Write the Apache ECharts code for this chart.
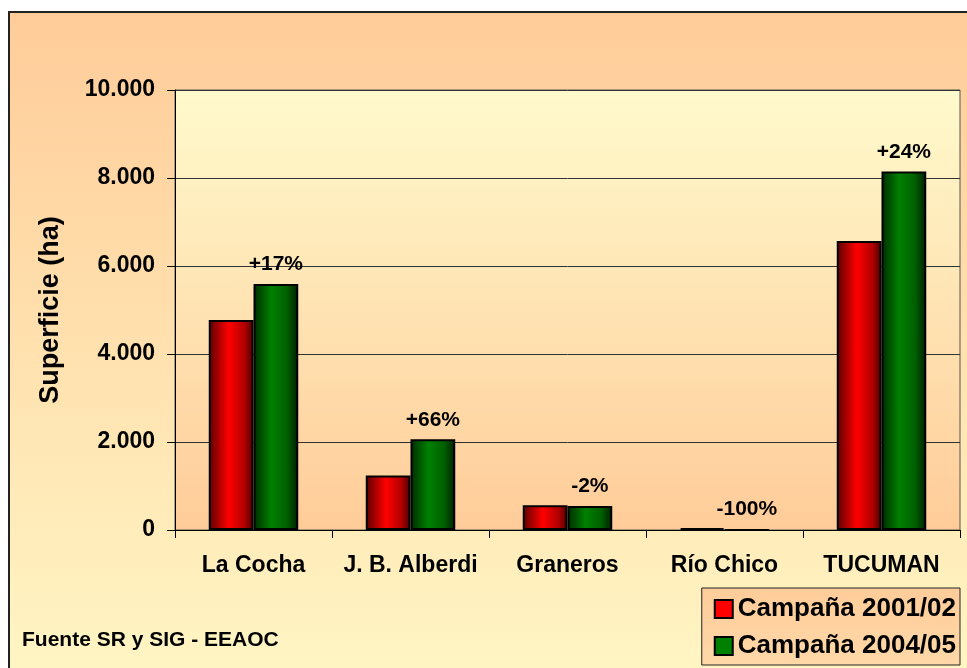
<!DOCTYPE html>
<html>
<head>
<meta charset="utf-8">
<script src="https://cdn.jsdelivr.net/npm/echarts@6/dist/echarts.min.js"></script>
<style>
  html, body { margin: 0; padding: 0; background: #fff; }
  #chart { width: 967px; height: 668px; }
</style>
</head>
<body>
<div id="chart"></div>
<script>
// datos
var categorias = ['La Cocha', 'J. B. Alberdi', 'Graneros', 'Río Chico', 'TUCUMAN'];
var campana0102 = [4770, 1240, 560, 40, 6570];
var campana0405 = [5590, 2060, 548, 0, 8150];
var variacion = ['+17%', '+66%', '-2%', '-100%', '+24%'];
var yTicks = [0, 2000, 4000, 6000, 8000, 10000];

var chart = echarts.init(document.getElementById('chart'));

function vgrad(top, bottom) {
  return new echarts.graphic.LinearGradient(0, 0, 0, 1, [
    { offset: 0, color: top },
    { offset: 1, color: bottom }
  ]);
}
function hgrad(stops) {
  return new echarts.graphic.LinearGradient(0, 0, 1, 0, stops);
}

var rojo = hgrad([
  { offset: 0, color: '#5a0000' },
  { offset: 0.45, color: '#ff0000' },
  { offset: 0.8, color: '#b00000' },
  { offset: 1, color: '#4a0000' }
]);
var verde = hgrad([
  { offset: 0, color: '#002a00' },
  { offset: 0.4, color: '#008000' },
  { offset: 0.75, color: '#006000' },
  { offset: 1, color: '#001e00' }
]);

var fuente = 'Arial, "Liberation Sans", sans-serif';

var option = {
  animation: false,
  textStyle: { fontFamily: fuente },
  graphic: [
    {
      type: 'rect',
      z: -100,
      shape: { x: 9, y: 12, width: 1000, height: 700 },
      style: {
        fill: vgrad('#ffcc99', '#fff8c6'),
        stroke: '#222',
        lineWidth: 2
      },
      silent: true
    },
    {
      type: 'text',
      left: 22,
      top: 630,
      style: {
        text: 'Fuente SR y SIG - EEAOC',
        font: 'bold 21px ' + fuente,
        fill: '#000'
      }
    }
  ],
  grid: {
    show: true,
    left: 175,
    top: 90,
    right: 7,
    bottom: 138,
    backgroundColor: vgrad('#fffacc', '#ffcc99'),
    borderColor: '#555',
    borderWidth: 1
  },
  legend: {
    orient: 'vertical',
    right: 7,
    bottom: 3,
    backgroundColor: vgrad('#ffcc99', '#ffd8a8'),
    borderColor: '#222',
    borderWidth: 1,
    borderRadius: 0,
    padding: [8, 4, 6, 12],
    itemGap: 11,
    itemWidth: 18,
    itemHeight: 18,
    itemTextGap: 6,
    icon: 'rect',
    textStyle: { fontSize: 26, fontWeight: 'bold', color: '#000', fontFamily: fuente },
    data: [
      { name: 'Campaña 2001/02', itemStyle: { color: '#ff0000', borderColor: '#000', borderWidth: 2 } },
      { name: 'Campaña 2004/05', itemStyle: { color: '#008000', borderColor: '#000', borderWidth: 2 } }
    ]
  },
  xAxis: {
    type: 'category',
    data: categorias,
    axisLine: { lineStyle: { color: '#000', width: 1 } },
    axisTick: { show: true, interval: 0, length: 8, lineStyle: { color: '#000' } },
    axisLabel: {
      interval: 0,
      hideOverlap: false,
      fontSize: 23,
      fontWeight: 'bold',
      color: '#000',
      margin: 24
    }
  },
  yAxis: {
    type: 'value',
    min: 0,
    max: 10000,
    interval: 2000,
    name: 'Superficie (ha)',
    nameLocation: 'middle',
    nameGap: 111,
    nameTextStyle: { fontSize: 27, fontWeight: 'bold', color: '#000' },
    axisLine: { show: true, lineStyle: { color: '#000' } },
    axisTick: { show: true, length: 8, lineStyle: { color: '#000' } },
    axisLabel: {
      fontSize: 23,
      fontWeight: 'bold',
      color: '#000',
      margin: 20,
      formatter: function (v) {
        if (yTicks.indexOf(v) < 0) return '';
        return String(v).replace(/\B(?=(\d{3})+(?!\d))/g, '.');
      }
    },
    splitLine: { lineStyle: { color: '#333', width: 1 } }
  },
  series: [
    {
      name: 'Campaña 2001/02',
      type: 'bar',
      data: campana0102,
      barGap: '0%',
      barCategoryGap: '43%',
      itemStyle: { color: rojo, borderColor: '#000', borderWidth: 2 }
    },
    {
      name: 'Campaña 2004/05',
      type: 'bar',
      data: campana0405,
      itemStyle: { color: verde, borderColor: '#000', borderWidth: 2 },
      label: {
        show: true,
        position: 'top',
        distance: 9,
        fontSize: 21,
        fontWeight: 'bold',
        color: '#000',
        formatter: function (p) { return variacion[p.dataIndex]; }
      }
    }
  ]
};

chart.setOption(option);
window.addEventListener('resize', function () {
  chart.resize();
});
</script>
</body>
</html>
